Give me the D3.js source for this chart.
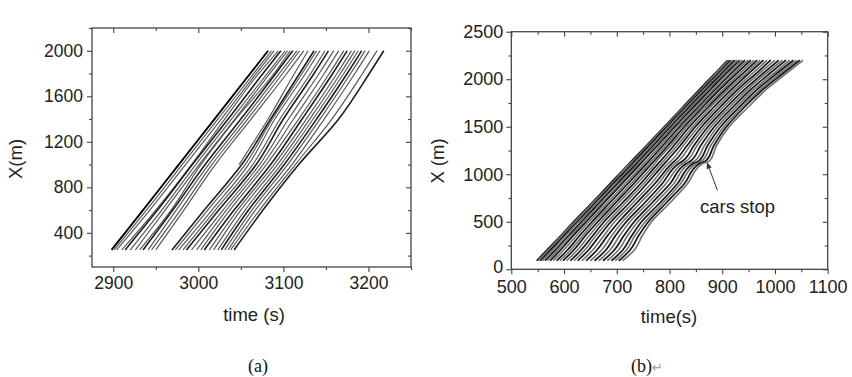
<!DOCTYPE html>
<html>
<head>
<meta charset="utf-8">
<script src="https://cdn.jsdelivr.net/npm/d3@7"></script>
<style>
	body { margin: 0; background: #fff; }
	svg { display: block; }
</style>
</head>
<body>
<svg id="chart" width="852" height="377"></svg>
<script>
// ---- panel (a): road position (m) and the time (s) each car passes it
const posA = [250, 600, 1000, 1400, 1800, 2000];

const leadCarsA = [
	[2898, 2935, 2977, 3019, 3061, 3082],
	[2901, 2939, 2981, 3023, 3065, 3086],
	[2904, 2943, 2985, 3027, 3068, 3089],
	[2910, 2950, 2992, 3031, 3071, 3094],
	[2914, 2952, 2993, 3035, 3076, 3097],
	[2920, 2957, 2997, 3039, 3081, 3102],
	[2926, 2961, 3001, 3043, 3084, 3105],
	[2931, 2968, 3003, 3044, 3089, 3108],
	[2935, 2970, 3008, 3050, 3091, 3111],
	[2941, 2974, 3012, 3054, 3095, 3116],
	[2945, 2979, 3016, 3058, 3099, 3119],
	[2950, 2983, 3020, 3062, 3104, 3124]
];

const lateCarsA = [
	[2969, 3007, 3051, 3085, 3119, 3136],
	[2973, 3011, 3055, 3087, 3122, 3139],
	[2977, 3016, 3059, 3090, 3126, 3143],
	[2982, 3020, 3064, 3096, 3132, 3149],
	[2986, 3024, 3068, 3100, 3136, 3153],
	[2992, 3029, 3072, 3106, 3142, 3159],
	[2998, 3033, 3076, 3112, 3148, 3165],
	[3003, 3037, 3080, 3118, 3154, 3171],
	[3007, 3042, 3085, 3122, 3158, 3175],
	[3013, 3046, 3089, 3127, 3163, 3180],
	[3018, 3050, 3093, 3131, 3167, 3184],
	[3023, 3055, 3097, 3135, 3171, 3188],
	[3027, 3059, 3101, 3139, 3175, 3192],
	[3031, 3063, 3105, 3143, 3179, 3196],
	[3035, 3067, 3110, 3148, 3184, 3201],
	[3038, 3072, 3114, 3157, 3193, 3210],
	[3042, 3076, 3118, 3165, 3201, 3218]
];

// one car joins the road half way
const entryCarA = [null, null, 3048, 3082, 3113, 3129];

const xTicksA = [2900, 3000, 3100, 3200];
const yTicksA = [400, 800, 1200, 1600, 2000];

// ---- panel (b)
const posB = [90, 200, 350, 500, 700, 900, 1110, 1140, 1300, 1500, 1700, 1900, 2060, 2200];

const carsB = [
	[548, 567, 593, 618, 653, 687, 723, 728, 756, 790, 824, 858, 886, 910],
	[551, 570, 595, 621, 655, 690, 725, 731, 758, 792, 826, 861, 888, 913],
	[555, 574, 599, 625, 659, 693, 729, 734, 761, 795, 829, 864, 892, 916],
	[559, 578, 603, 628, 663, 697, 733, 738, 765, 798, 832, 867, 895, 920],
	[564, 583, 608, 633, 667, 701, 737, 742, 769, 802, 836, 871, 899, 924],
	[569, 588, 613, 637, 672, 706, 741, 746, 773, 806, 840, 875, 903, 928],
	[574, 593, 617, 642, 676, 710, 745, 750, 777, 810, 844, 879, 907, 933],
	[580, 599, 623, 647, 682, 716, 751, 756, 782, 814, 848, 883, 912, 938],
	[586, 606, 629, 653, 687, 721, 756, 761, 787, 819, 853, 888, 917, 943],
	[592, 612, 635, 658, 693, 727, 761, 766, 792, 823, 857, 893, 922, 949],
	[598, 618, 640, 664, 698, 732, 766, 771, 797, 828, 862, 897, 927, 954],
	[605, 625, 647, 670, 704, 738, 772, 776, 802, 833, 867, 903, 933, 960],
	[612, 632, 654, 676, 711, 745, 778, 783, 808, 838, 872, 908, 939, 966],
	[619, 639, 660, 683, 717, 751, 784, 789, 814, 844, 877, 913, 945, 972],
	[626, 646, 667, 689, 724, 757, 790, 795, 820, 849, 883, 919, 950, 978],
	[634, 654, 675, 696, 731, 765, 797, 803, 826, 855, 889, 925, 957, 985],
	[642, 662, 682, 704, 738, 772, 804, 810, 833, 861, 895, 931, 964, 992],
	[650, 671, 690, 711, 745, 779, 810, 817, 839, 867, 901, 937, 970, 1000],
	[658, 679, 697, 718, 753, 786, 817, 825, 846, 873, 907, 944, 977, 1007],
	[666, 687, 705, 725, 760, 793, 824, 832, 852, 879, 913, 950, 983, 1014],
	[674, 695, 713, 733, 767, 801, 831, 840, 859, 885, 919, 956, 990, 1021],
	[682, 703, 720, 740, 774, 808, 837, 848, 866, 891, 925, 962, 997, 1028],
	[690, 711, 728, 747, 782, 815, 844, 856, 872, 897, 931, 968, 1003, 1035],
	[697, 718, 734, 754, 788, 821, 850, 862, 878, 903, 936, 974, 1009, 1041],
	[704, 725, 741, 760, 794, 828, 856, 869, 884, 908, 941, 979, 1015, 1047],
	[711, 733, 748, 766, 801, 834, 862, 876, 889, 913, 948, 985, 1021, 1053]
];

const xTicksB = [500, 600, 700, 800, 900, 1000, 1100];
const yTicksB = [0, 500, 1000, 1500, 2000, 2500];

// where the last cars stand still, and where the note sits (time, X)
const stopPointB = [871, 1126];
const stopNoteB = [929, 660];

const svg = d3.select('#chart');
const sans = '"Liberation Sans", Arial, sans-serif';

function drawPanel(o) {
	const x = d3.scaleLinear().domain(o.xDomain).range([o.box.left, o.box.right]),
		  y = d3.scaleLinear().domain(o.yDomain).range([o.box.bottom, o.box.top]);

	const g = svg.append('g');

	// trajectories
	const line = d3.line()
		.defined(d => d[0] != null)
		.x(d => x(d[0]))
		.y(d => y(d[1]))
		.curve(d3.curveMonotoneY);

	g.append('g')
		.selectAll('path')
		.data(o.cars)
		.join('path')
		.attr('d', times => line(times.map((t, i) => [t, o.pos[i]])))
		.attr('fill', 'none')
		.attr('stroke', (d, i) => o.stroke(i))
		.attr('stroke-width', (d, i) => o.strokeWidth(i))
		.attr('stroke-linejoin', 'round');

	// minor ticks sit half way between the labelled ones
	const xStep = o.xTicks[1] - o.xTicks[0],
		  yStep = o.yTicks[1] - o.yTicks[0];
	const xMinor = d3.range(o.xTicks[0] - xStep / 2, o.xDomain[1] + 1, xStep)
			.filter(v => v >= o.xDomain[0]),
		  yMinor = d3.range(o.yTicks[0] - yStep / 2, o.yDomain[1] + 1, yStep)
			.filter(v => v >= o.yDomain[0]);

	const axes = [
		{ axis: d3.axisBottom(x), at: `translate(0,${o.box.bottom})`, values: o.xTicks, minor: xMinor, size: 5, label: true, pad: o.xPad, cls: 'x-labels' },
		{ axis: d3.axisLeft(y), at: `translate(${o.box.left},0)`, values: o.yTicks, minor: yMinor, size: 5, label: true, pad: o.yPad, cls: 'y-labels' },
		{ axis: d3.axisTop(x), at: `translate(0,${o.box.top})`, values: o.xTicks, minor: xMinor, size: -5, label: false, pad: 3, cls: 'mirror' },
		{ axis: d3.axisRight(y), at: `translate(${o.box.right},0)`, values: o.yTicks, minor: yMinor, size: -5, label: false, pad: 3, cls: 'mirror' }
	];

	axes.forEach(a => {
		const major = g.append('g')
			.classed(a.cls, true)
			.attr('transform', a.at)
			.call(a.axis.tickValues(a.values).tickSize(a.size).tickSizeOuter(0).tickPadding(a.pad)
				.tickFormat(a.label ? d3.format('d') : ''));
		major.select('.domain').remove();
		major.selectAll('line').attr('stroke', '#444').attr('stroke-width', 1.1);
		major.selectAll('text')
			.style('font-family', sans)
			.style('font-size', o.tickFont + 'px')
			.attr('fill', '#222');

		const minor = g.append('g')
			.attr('transform', a.at)
			.call(a.axis.tickValues(a.minor).tickSize(a.size * 0.6).tickFormat(''));
		minor.select('.domain').remove();
		minor.selectAll('line').attr('stroke', '#444').attr('stroke-width', 1.1);
	});

	// frame
	g.append('rect')
		.attr('x', o.box.left)
		.attr('y', o.box.top)
		.attr('width', o.box.right - o.box.left)
		.attr('height', o.box.bottom - o.box.top)
		.attr('fill', 'none')
		.attr('stroke', '#444')
		.attr('stroke-width', 1.3);

	// titles
	g.append('text')
		.attr('x', o.xTitleAt[0])
		.attr('y', o.xTitleAt[1])
		.attr('dy', '0.35em')
		.attr('text-anchor', 'middle')
		.style('font-family', sans)
		.style('font-size', o.titleFont + 'px')
		.attr('fill', '#222')
		.text(o.xTitle);

	g.append('text')
		.attr('transform', `translate(${o.yTitleAt[0]},${o.yTitleAt[1]}) rotate(-90)`)
		.attr('dy', '0.35em')
		.attr('text-anchor', 'middle')
		.style('font-family', sans)
		.style('font-size', o.titleFont + 'px')
		.attr('fill', '#222')
		.text(o.yTitle);

	return { x, y, g };
}

// panel (a)
drawPanel({
	box: { left: 92, right: 411, top: 28, bottom: 267 },
	xDomain: [2875, 3250],
	yDomain: [100, 2200],
	xTicks: xTicksA,
	yTicks: yTicksA,
	pos: posA,
	cars: leadCarsA.concat(lateCarsA, [entryCarA]),
	stroke: i => (i === 0 ? '#000' : i % 4 === 0 ? '#1e1e1e' : '#555'),
	strokeWidth: i => (i === 0 ? 1.9 : i % 4 === 0 ? 1.6 : 1.15),
	xPad: 5,
	yPad: 4,
	tickFont: 17.5,
	titleFont: 18.5,
	xTitle: 'time (s)',
	xTitleAt: [254, 315],
	yTitle: 'X(m)',
	yTitleAt: [15.5, 159]
});

// panel (b)
const pb = drawPanel({
	box: { left: 511.3, right: 827.7, top: 31.7, bottom: 269.3 },
	xDomain: [500, 1100],
	yDomain: [0, 2500],
	xTicks: xTicksB,
	yTicks: yTicksB,
	pos: posB,
	cars: carsB,
	stroke: i => (i % 2 === 0 ? '#151515' : '#747474'),
	strokeWidth: () => 1.7,
	xPad: 6,
	yPad: 3,
	tickFont: 18,
	titleFont: 18.5,
	xTitle: 'time(s)',
	xTitleAt: [669, 316.5],
	yTitle: 'X (m)',
	yTitleAt: [437.7, 161]
});

// the "0" of the X axis sits right on the corner, lift it a little off the time labels
pb.g.selectAll('.y-labels .tick text')
	.filter(d => d === 0)
	.attr('dy', '0.15em');

// "cars stop" note with its arrow
const tip = [pb.x(stopPointB[0]), pb.y(stopPointB[1])],
	  tail = [pb.x(stopPointB[0]) + 10.5, pb.y(stopPointB[1]) + 28];
const ang = Math.atan2(tip[1] - tail[1], tip[0] - tail[0]);
pb.g.append('line')
	.attr('x1', tail[0]).attr('y1', tail[1])
	.attr('x2', tip[0] - Math.cos(ang) * 4).attr('y2', tip[1] - Math.sin(ang) * 4)
	.attr('stroke', '#333')
	.attr('stroke-width', 1);
pb.g.append('path')
	.attr('d', d3.line()([
		tip,
		[tip[0] - Math.cos(ang - 0.4) * 7, tip[1] - Math.sin(ang - 0.4) * 7],
		[tip[0] - Math.cos(ang + 0.4) * 7, tip[1] - Math.sin(ang + 0.4) * 7]
	]) + 'Z')
	.attr('fill', '#333');

pb.g.append('text')
	.attr('x', pb.x(stopNoteB[0]))
	.attr('y', pb.y(stopNoteB[1]))
	.attr('dy', '0.35em')
	.attr('text-anchor', 'middle')
	.style('font-family', sans)
	.style('font-size', '18.5px')
	.attr('fill', '#222')
	.text('cars stop');

// sub-figure captions
const captions = svg.append('g')
	.style('font-family', '"Liberation Serif", "Times New Roman", serif')
	.style('font-size', '18px')
	.attr('fill', '#111');

captions.append('text')
	.attr('x', 258).attr('y', 366).attr('dy', '0.35em')
	.attr('text-anchor', 'middle')
	.text('(a)');

const capB = captions.append('text')
	.attr('x', 631).attr('y', 366).attr('dy', '0.35em');
capB.append('tspan').text('(b)');
capB.append('tspan')
	.style('font-family', '"DejaVu Sans", sans-serif')
	.style('font-size', '13px')
	.attr('fill', '#999')
	.text('\u21b5');
</script>
</body>
</html>
